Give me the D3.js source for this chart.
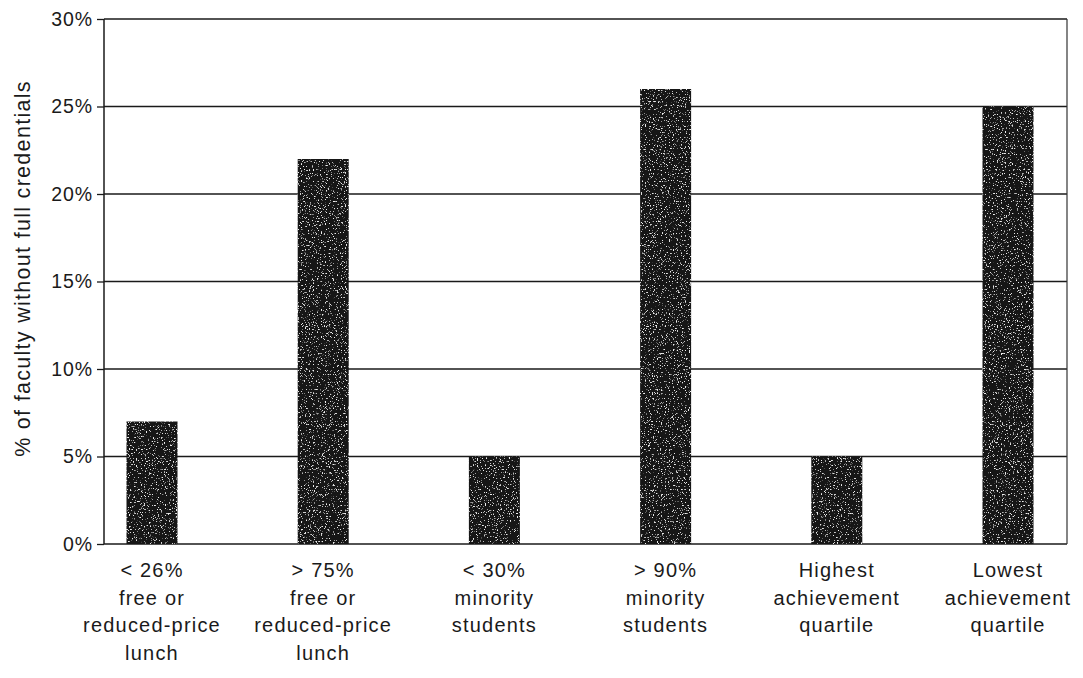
<!DOCTYPE html>
<html>
<head>
<meta charset="utf-8">
<script src="https://cdn.jsdelivr.net/npm/d3@7"></script>
<style>
  html, body { margin: 0; padding: 0; background: #fff; }
  svg { display: block; }
  text { font-family: "Liberation Sans", Arial, Helvetica, sans-serif; fill: #1a1a1a; }
</style>
</head>
<body>
<svg id="chart" width="1083" height="678"></svg>
<script>
// Share of faculty without full credentials, by school group
const categories = [
  ["< 26%", "free or", "reduced-price", "lunch"],
  ["> 75%", "free or", "reduced-price", "lunch"],
  ["< 30%", "minority", "students"],
  ["> 90%", "minority", "students"],
  ["Highest", "achievement", "quartile"],
  ["Lowest", "achievement", "quartile"]
];
const values = [7, 22, 5, 26, 5, 25];
const yTicks = [0, 5, 10, 15, 20, 25, 30];
const yTitle = "% of faculty without full credentials";

const svg = d3.select("#chart");
const plot = { left: 104, right: 1067, top: 19, bottom: 544 };
const firstCenter = 152, lastCenter = 1008, barWidth = 51;

// speckled print texture for the bars
const defs = svg.append("defs");
const f = defs.append("filter").attr("id", "grain")
  .attr("x", 0).attr("y", 0).attr("width", 1).attr("height", 1);
f.append("feTurbulence").attr("type", "fractalNoise").attr("baseFrequency", 0.75)
  .attr("numOctaves", 2).attr("seed", 7).attr("result", "noise");
f.append("feColorMatrix").attr("in", "noise").attr("type", "matrix")
  .attr("values", "0 0 0 0 0.85  0 0 0 0 0.85  0 0 0 0 0.85  9 0 0 0 -5.6")
  .attr("result", "speck");
f.append("feComposite").attr("in", "speck").attr("in2", "SourceGraphic")
  .attr("operator", "atop");

const keys = categories.map((c, i) => i);
const x = d3.scalePoint().domain(keys).range([firstCenter, lastCenter]);
const y = d3.scaleLinear().domain([0, 30]).range([plot.bottom, plot.top]);

// horizontal gridlines
svg.append("g").selectAll("line").data(yTicks).join("line")
  .attr("x1", plot.left).attr("x2", plot.right)
  .attr("y1", d => y(d)).attr("y2", d => y(d))
  .attr("stroke", "#1a1a1a").attr("stroke-width", 1.5);

// right frame edge
svg.append("line")
  .attr("x1", plot.right).attr("x2", plot.right)
  .attr("y1", plot.top).attr("y2", plot.bottom)
  .attr("stroke", "#333").attr("stroke-width", 1.2);

// bars
svg.append("g").selectAll("rect").data(values).join("rect")
  .attr("x", (d, i) => x(i) - barWidth / 2)
  .attr("width", barWidth)
  .attr("y", d => y(d))
  .attr("height", d => y(0) - y(d))
  .attr("fill", "#161616")
  .attr("filter", "url(#grain)");

// y axis
const yAxis = d3.axisLeft(y).tickValues(yTicks)
  .tickFormat(d => d + "%").tickSize(7).tickPadding(4);
const gy = svg.append("g").attr("transform", `translate(${plot.left},0)`).call(yAxis);
gy.select(".domain").attr("stroke", "#1a1a1a").attr("stroke-width", 1.5)
  .attr("d", `M0,${plot.top}V${plot.bottom}`);
gy.selectAll(".tick line").attr("stroke", "#1a1a1a").attr("stroke-width", 1.3);
gy.selectAll(".tick text")
  .style("font-family", "'Liberation Sans', Arial, sans-serif")
  .style("letter-spacing", "0.9px")
  .attr("font-size", 19.5).attr("fill", "#1a1a1a");

// category labels
const lab = svg.append("g").selectAll("text").data(categories).join("text")
  .attr("text-anchor", "middle")
  .attr("font-size", 20)
  .style("letter-spacing", "1.2px")
  .attr("transform", (d, i) => `translate(${x(i)},${plot.bottom + 33})`);
lab.selectAll("tspan").data(d => d).join("tspan")
  .attr("x", 0).attr("dy", (d, j) => j === 0 ? 0 : 27.5)
  .text(d => d);

// y title
svg.append("text")
  .attr("transform", `translate(30,${(plot.top + plot.bottom) / 2 - 13}) rotate(-90)`)
  .attr("text-anchor", "middle")
  .attr("font-size", 21.5)
  .style("letter-spacing", "1.3px")
  .text(yTitle);
</script>
</body>
</html>
